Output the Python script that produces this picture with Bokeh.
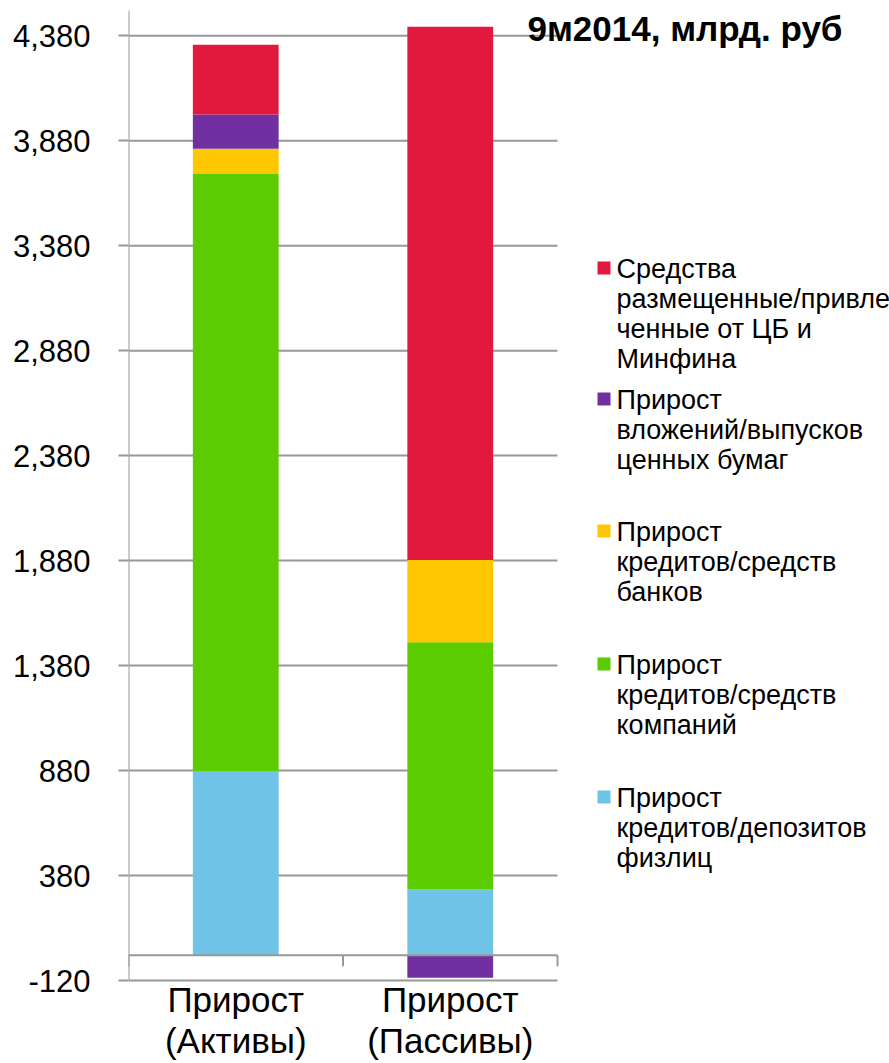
import numpy as np
from bokeh.plotting import figure
from bokeh.models import (ColumnDataSource, FixedTicker, NumeralTickFormatter, Range1d,
                          Label, BoxAnnotation)
from bokeh.embed import file_html
from bokeh.resources import INLINE
from bokeh.core.properties import value

# --- data (bn RUB, 9M 2014) ---
categories = ["Прирост\n(Активы)", "Прирост\n(Пассивы)"]
series_names = [
    "Прирост кредитов/депозитов физлиц",
    "Прирост кредитов/средств компаний",
    "Прирост кредитов/средств банков",
    "Прирост вложений/выпусков ценных бумаг",
    "Средства размещенные/привлеченные от ЦБ и Минфина",
]
fizlits = [877, 313]
kompanii = [2844, 1178]
banki = [121, 392]
tsennye_bumagi = [163, -107]
cb_minfin = [332, 2540]
y_ticks = [-120, 380, 880, 1380, 1880, 2380, 2880, 3380, 3880, 4380]
y_axis_top = 4500

# legend texts, top to bottom (red, purple, yellow, green, blue)
legend_lines = [
    ["Средства", "размещенные/привле", "ченные от ЦБ и", "Минфина"],
    ["Прирост", "вложений/выпусков", "ценных бумаг"],
    ["Прирост", "кредитов/средств", "банков"],
    ["Прирост", "кредитов/средств", "компаний"],
    ["Прирост", "кредитов/депозитов", "физлиц"],
]
title_text = "9м2014, млрд. руб"

# --- styling / layout ---
colors = ["#6EC3E6", "#5ACC00", "#FFC700", "#7030A0", "#E2193F"]
grid_gray = "#989898"
FONT = "Liberation Sans"

W, H = 889, 1063
AXIS_X = 128           # pixel column of the value axis
PLOT_RIGHT = 557       # right end of the gridlines
PLOT_TOP = 10          # top of the value axis line
PLOT_BOTTOM = 980      # pixel row of the lowest tick

n_cat = len(categories)
y_min = y_ticks[0]
y_scale = (PLOT_BOTTOM - PLOT_TOP) / (y_axis_top - y_min)       # px per unit
x_scale = (PLOT_RIGHT - AXIS_X) / n_cat                          # px per category
y_start = y_min - (H - PLOT_BOTTOM) / y_scale
y_end = y_axis_top + PLOT_TOP / y_scale
x_end = n_cat + (W - PLOT_RIGHT) / x_scale

p = figure(width=W, height=H, x_range=Range1d(0, x_end), y_range=Range1d(y_start, y_end),
           output_backend="svg", toolbar_location=None,
           min_border_left=AXIS_X, min_border_right=0, min_border_top=0, min_border_bottom=0)
p.outline_line_color = None
p.background_fill_color = "white"
p.border_fill_color = "white"
p.xaxis.visible = False
p.xgrid.grid_line_color = None
p.ygrid.grid_line_color = None

# value axis: ticks and labels from bokeh, line drawn only over the plotted span
p.yaxis.ticker = FixedTicker(ticks=y_ticks)
p.yaxis.formatter = NumeralTickFormatter(format="0,0")
p.yaxis.major_label_text_font = FONT
p.yaxis.major_label_text_font_size = "31px"
p.yaxis.major_label_text_color = "black"
p.yaxis.major_label_standoff = 28
p.yaxis.major_tick_out = 10
p.yaxis.major_tick_in = 0
p.yaxis.minor_tick_line_color = None
p.yaxis.axis_line_color = None
p.yaxis.major_tick_line_color = grid_gray
p.yaxis.major_tick_line_width = 2

# horizontal gridlines across the category span
yt = np.array(y_ticks, dtype=float)
p.segment(x0=np.zeros(len(yt)), x1=np.full(len(yt), n_cat), y0=yt, y1=yt,
          line_color=grid_gray, line_width=2)
p.segment(x0=[0], x1=[0], y0=[y_min], y1=[y_axis_top], line_color=grid_gray, line_width=2)

# stacked bars: positives stack upward from zero, negatives downward
values = [fizlits, kompanii, banki, tsennye_bumagi, cb_minfin]
pos_base = np.zeros(n_cat)
neg_base = np.zeros(n_cat)
xs = np.arange(n_cat) + 0.5
for vals, col, name in zip(values, colors, series_names):
    v = np.array(vals, dtype=float)
    bottom = np.where(v >= 0, pos_base, neg_base + v)
    top = np.where(v >= 0, pos_base + v, neg_base)
    pos_base = np.where(v >= 0, pos_base + v, pos_base)
    neg_base = np.where(v < 0, neg_base + v, neg_base)
    src = ColumnDataSource(dict(x=xs, bottom=bottom, top=top))
    p.vbar(x="x", bottom="bottom", top="top", width=0.4, source=src,
           fill_color=col, line_color=None, name=name)

# category axis at zero with separators hanging below it
bounds = np.arange(n_cat + 1, dtype=float)
tick_len = 11 / y_scale
p.segment(x0=[0], x1=[n_cat], y0=[0], y1=[0], line_color=grid_gray, line_width=2)
p.segment(x0=bounds, x1=bounds, y0=np.zeros(len(bounds)), y1=np.full(len(bounds), -tick_len),
          line_color=grid_gray, line_width=2)

# category labels under the lowest gridline
label_gap = 1 / y_scale
p.text(x=xs, y=np.full(n_cat, y_min + label_gap), text=categories, text_font=value(FONT),
       text_font_size="35px", text_color="black", text_align="center",
       text_baseline="top", text_line_height=1.07)


def sx(cx):
    return cx - AXIS_X


def sy(cy):
    return H - cy


# title (first visible line)
p.add_layout(Label(x=sx(527), y=sy(28), x_units="screen", y_units="screen",
                   text=title_text, text_font=FONT, text_font_style="bold",
                   text_font_size="35px", text_color="black",
                   text_baseline="alphabetic", text_align="left"))

# legend
entry_y = [268, 399, 531, 664, 797]
line_step = 30
legend_colors = list(reversed(colors))
for ey, lines, col in zip(entry_y, legend_lines, legend_colors):
    p.add_layout(BoxAnnotation(left=sx(597), right=sx(610), top=sy(ey - 7), bottom=sy(ey + 6),
                               left_units="screen", right_units="screen",
                               top_units="screen", bottom_units="screen",
                               fill_color=col, fill_alpha=1, line_color=None))
    for i, t in enumerate(lines):
        p.add_layout(Label(x=sx(616), y=sy(ey + i * line_step), x_units="screen", y_units="screen",
                           text=t, text_font=FONT, text_font_size="27px", text_color="black",
                           text_baseline="middle", text_align="left"))

open("out.html", "w").write(file_html(p, INLINE))
